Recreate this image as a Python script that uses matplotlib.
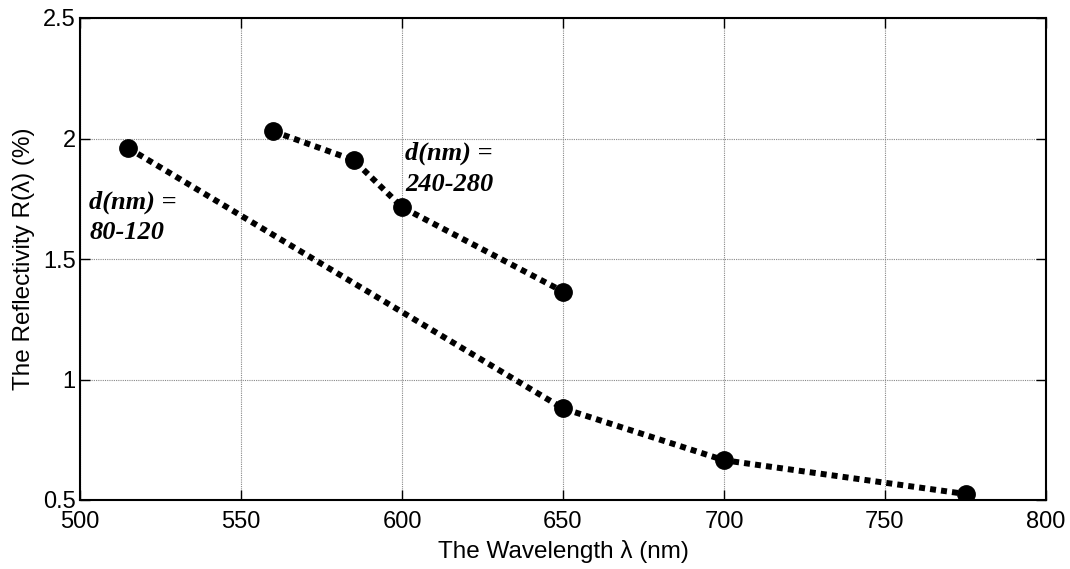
import matplotlib
matplotlib.use("Agg")
import matplotlib.pyplot as plt

# Data
wl_thin = [515, 650, 700, 775]
refl_thin = [1.96, 0.88, 0.665, 0.525]
wl_thick = [560, 585, 600, 650]
refl_thick = [2.03, 1.91, 1.715, 1.365]

x_ticks = [500, 550, 600, 650, 700, 750, 800]
y_ticks = [0.5, 1, 1.5, 2, 2.5]
y_tick_labels = ["0.5", "1", "1.5", "2", "2.5"]

plt.rcParams['font.family'] = ['Liberation Sans', 'DejaVu Sans']

fig = plt.figure(figsize=(10.70, 5.69), dpi=100)
ax = fig.add_axes([80/1070, 1 - 500/569, (1046-80)/1070, (500-18)/569])

for xs, ys in [(wl_thin, refl_thin), (wl_thick, refl_thick)]:
    ax.plot(xs, ys, color='black', linestyle=(0, (1, 0.85)), linewidth=4.3,
            dash_capstyle='butt', marker='o', markersize=12.5,
            markerfacecolor='black', markeredgecolor='black', zorder=3)

ax.set_xlim(500, 800)
ax.set_ylim(0.5, 2.5)
ax.set_xticks(x_ticks)
ax.set_yticks(y_ticks)
ax.set_yticklabels(y_tick_labels)
ax.grid(True, color='#888888', linestyle=(0, (1, 1)), linewidth=0.8)
ax.tick_params(direction='in', length=7, width=1, top=True, right=True,
               labelsize=17)
ax.tick_params(axis='x', pad=8)
ax.tick_params(axis='y', pad=3)
for s in ax.spines.values():
    s.set_linewidth(1.5)

ax.set_xlabel("The Wavelength λ (nm)", fontsize=17.5, labelpad=5)
ax.set_ylabel("The Reflectivity R(λ) (%)", fontsize=17.5, labelpad=6)

ann_font = dict(family=['Liberation Serif', 'DejaVu Serif'], fontsize=19,
                fontweight='bold', fontstyle='italic', va='center', ha='left')
ax.text(601, 1.94, "d(nm) =", **ann_font)
ax.text(601, 1.81, "240-280", **ann_font)
ax.text(502.8, 1.735, "d(nm) =", **ann_font)
ax.text(502.8, 1.61, "80-120", **ann_font)

fig.savefig("out.png", dpi=100)
